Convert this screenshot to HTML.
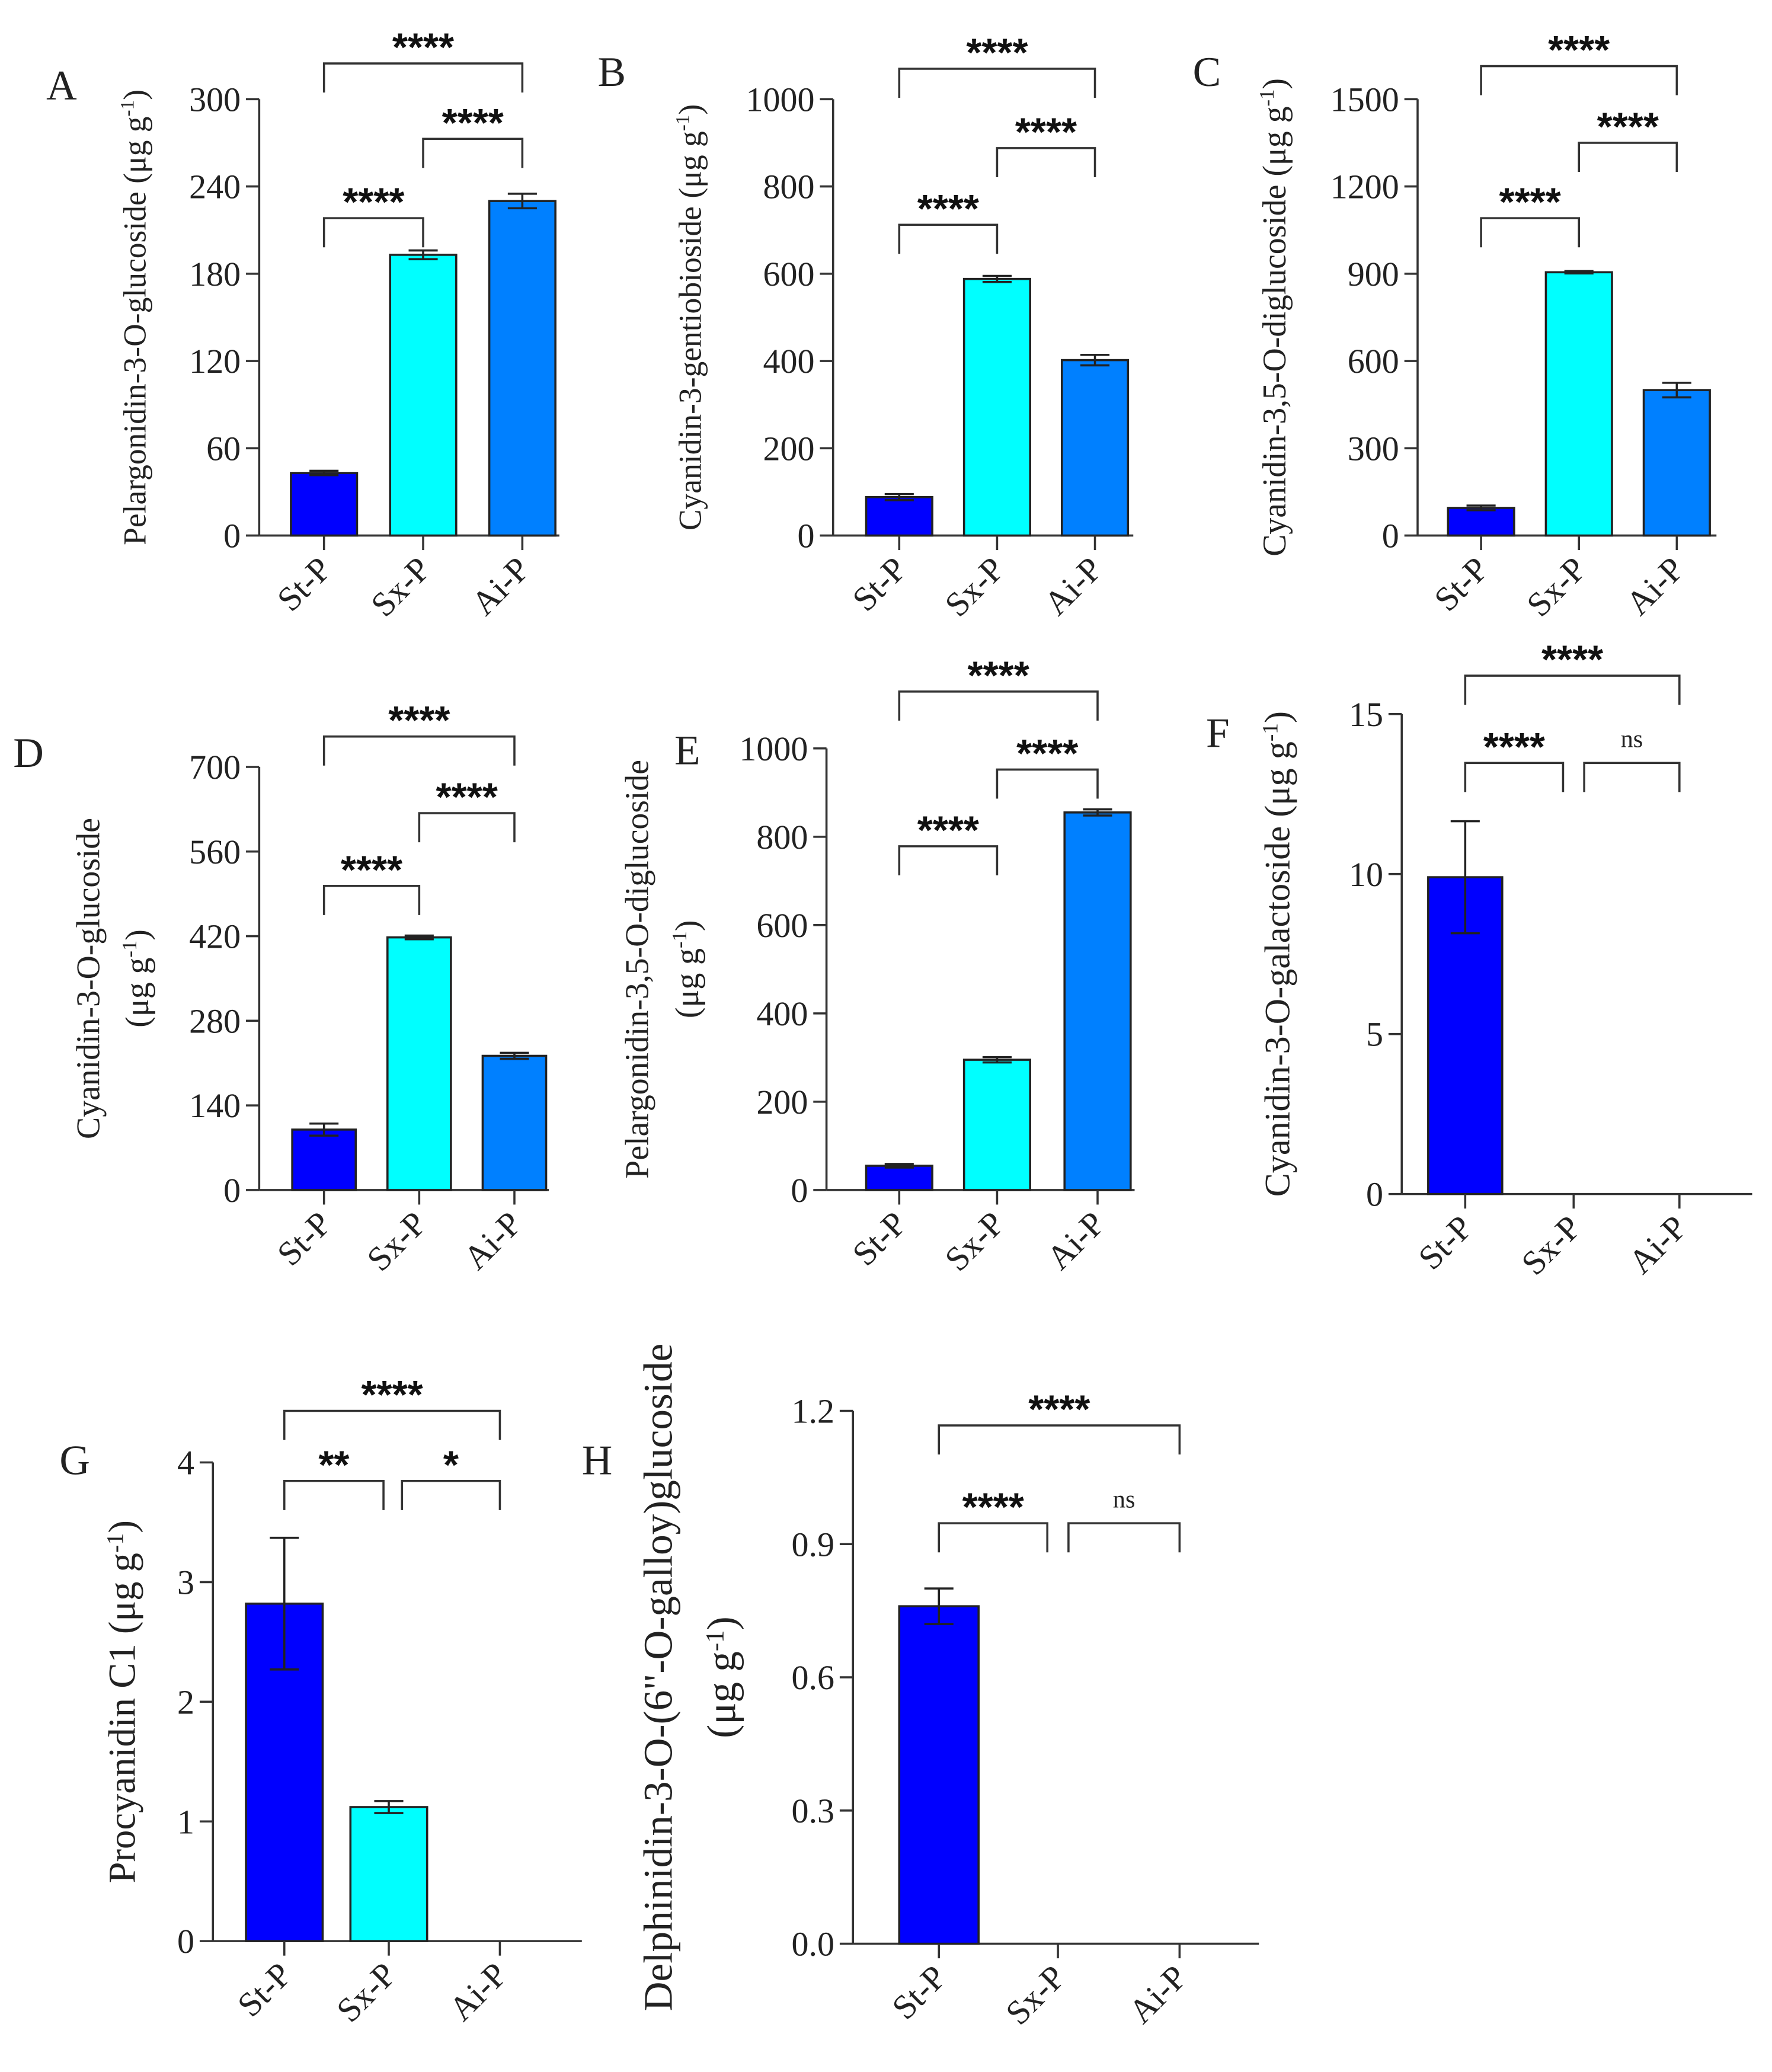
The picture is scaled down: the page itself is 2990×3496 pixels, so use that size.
<!DOCTYPE html>
<html><head><meta charset="utf-8"><style>
html,body{margin:0;padding:0;background:#fff}
svg{display:block}
text{font-family:"Liberation Serif",serif;fill:#222}
</style></head><body>
<svg id="fig" width="2990" height="3496" viewBox="0 0 1340 1567" preserveAspectRatio="none" xmlns="http://www.w3.org/2000/svg"></svg>
<script>
const categories = ['St-P','Sx-P','Ai-P'];
const colors = ['#0000ff','#00ffff','#0080ff'];
// Panel A
const valuesA = [43,193,230]; const errorsA = [1.5,3,5]; const ticksA = [0,60,120,180,240,300];
// Panel B
const valuesB = [88,588,402]; const errorsB = [7,7,12]; const ticksB = [0,200,400,600,800,1000];
// Panel C
const valuesC = [95,905,500]; const errorsC = [8,4,25]; const ticksC = [0,300,600,900,1200,1500];
// Panel D
const valuesD = [100,418,222]; const errorsD = [10,3,5]; const ticksD = [0,140,280,420,560,700];
// Panel E
const valuesE = [55,295,855]; const errorsE = [4,6,7]; const ticksE = [0,200,400,600,800,1000];
// Panel F
const valuesF = [9.9,0,0]; const errorsF = [1.75,0,0]; const ticksF = [0,5,10,15];
// Panel G
const valuesG = [2.82,1.12,0]; const errorsG = [0.55,0.05,0]; const ticksG = [0,1,2,3,4];
// Panel H
const valuesH = [0.76,0,0]; const errorsH = [0.04,0,0]; const ticksH = [0.0,0.3,0.6,0.9,1.2];
const tickLabelsH = ['0.0','0.3','0.6','0.9','1.2'];
// Significance labels
const sigA = ['****','****','****'], sigB = ['****','****','****'], sigC = ['****','****','****'];
const sigD = ['****','****','****'], sigE = ['****','****','****'], sigF = ['****','****','ns'];
const sigG = ['****','**','*'], sigH = ['****','****','ns'];

const NS='http://www.w3.org/2000/svg';
const svg=document.getElementById('fig');
function mk(tag,attrs,parent){const e=document.createElementNS(NS,tag);for(const k in attrs)e.setAttribute(k,attrs[k]);(parent||svg).appendChild(e);return e;}

const panels=[
 {id:'a',letter:'A',lx:35,ly:75,vals:valuesA,errs:errorsA,ticks:ticksA,sig:sigA,ax:196,xEnd:423,yTop:75,y0:405,c:[245,320,395],bw:50,
  title:['Pelargonidin-3-O-glucoside (μg g','-1',')'],tx:110,fs:24,title2:null,
  br:[{a:0,b:2,y:48},{a:1,b:2,y:105},{a:0,b:1,y:165}]},
 {id:'b',letter:'B',lx:452,ly:65,vals:valuesB,errs:errorsB,ticks:ticksB,sig:sigB,ax:630,xEnd:857,yTop:75,y0:405,c:[680,754,828],bw:50,
  title:['Cyanidin-3-gentiobioside (μg g','-1',')'],tx:530,fs:24,title2:null,
  br:[{a:0,b:2,y:52},{a:1,b:2,y:112},{a:0,b:1,y:170}]},
 {id:'c',letter:'C',lx:902,ly:65,vals:valuesC,errs:errorsC,ticks:ticksC,sig:sigC,ax:1072,xEnd:1298,yTop:75,y0:405,c:[1120,1194,1268],bw:50,
  title:['Cyanidin-3,5-O-diglucoside  (μg g','-1',')'],tx:972,fs:25,title2:null,
  br:[{a:0,b:2,y:50},{a:1,b:2,y:108},{a:0,b:1,y:165}]},
 {id:'d',letter:'D',lx:10,ly:580,vals:valuesD,errs:errorsD,ticks:ticksD,sig:sigD,ax:196,xEnd:415,yTop:580,y0:900,c:[245,317,389],bw:48,
  title:['Cyanidin-3-O-glucoside'],tx:75,fs:25,title2:['(μg g','-1',')'],tx2:112,
  br:[{a:0,b:2,y:557},{a:1,b:2,y:615},{a:0,b:1,y:670}]},
 {id:'e',letter:'E',lx:510,ly:578,vals:valuesE,errs:errorsE,ticks:ticksE,sig:sigE,ax:625,xEnd:858,yTop:566,y0:900,c:[680,754,830],bw:50,
  title:['Pelargonidin-3,5-O-diglucoside'],tx:490,fs:25,title2:['(μg g','-1',')'],tx2:528,
  br:[{a:0,b:2,y:523},{a:1,b:2,y:582},{a:0,b:1,y:640}]},
 {id:'f',letter:'F',lx:912,ly:565,vals:valuesF,errs:errorsF,ticks:ticksF,sig:sigF,ax:1060,xEnd:1325,yTop:540,y0:903,c:[1108,1190,1270],bw:56,
  title:['Cyanidin-3-O-galactoside (μg g','-1',')'],tx:975,fs:27,title2:null,
  br:[{a:0,b:2,y:511},{a:0,b:1,y:577,e:-8},{a:1,b:2,y:577,s:8}]},
 {id:'g',letter:'G',lx:45,ly:1115,vals:valuesG,errs:errorsG,ticks:ticksG,sig:sigG,ax:161,xEnd:440,yTop:1106,y0:1468,c:[215,294,378],bw:58,
  title:['Procyanidin C1 (μg g','-1',')'],tx:102,fs:29,title2:null,
  br:[{a:0,b:2,y:1067},{a:0,b:1,y:1120,e:-4},{a:1,b:2,y:1120,s:10}]},
 {id:'h',letter:'H',lx:440,ly:1115,vals:valuesH,errs:errorsH,ticks:ticksH,tickLabels:tickLabelsH,sig:sigH,ax:645,xEnd:952,yTop:1067,y0:1470,c:[710,800,892],bw:60,
  title:['Delphinidin-3-O-(6"-O-galloy)glucoside'],tx:508,fs:31,title2:['(μg g','-1',')'],tx2:556,
  br:[{a:0,b:2,y:1078},{a:0,b:1,y:1152,e:-8},{a:1,b:2,y:1152,s:8}]}
];

function addTitle(g,parts,x,yc,fs){
  const t=mk('text',{x:x,y:yc,'text-anchor':'middle','font-size':fs,transform:`rotate(-90 ${x} ${yc})`},g);
  
  
  const s1=mk('tspan',{},t);s1.textContent=parts[0];
  if(parts.length>1){const s2=mk('tspan',{dy:-9,'font-size':fs*0.62},t);s2.textContent=parts[1];
    const s3=mk('tspan',{dy:9},t);s3.textContent=parts[2];}
}

panels.forEach(p=>{
  const g=mk('g',{});
  
  
  const vmax=p.ticks[p.ticks.length-1];
  const y=v=>p.y0-(v/vmax)*(p.y0-p.yTop);
  const L=mk('text',{x:p.lx,y:p.ly,'font-size':32},g);L.textContent=p.letter;
  
  
  const ya=mk('line',{x1:p.ax,y1:p.yTop,x2:p.ax,y2:p.y0,stroke:'#333','stroke-width':1.6},g);
  
  
  const xa=mk('line',{x1:p.ax,y1:p.y0,x2:p.xEnd,y2:p.y0,stroke:'#333','stroke-width':1.6},g);
  
  
  p.ticks.forEach((t,i)=>{
    const yy=y(t);
    mk('line',{x1:p.ax-10,y1:yy,x2:p.ax,y2:yy,stroke:'#333','stroke-width':1.6},g);
    const tl=mk('text',{x:p.ax-14,y:yy+9,'text-anchor':'end','font-size':26},g);
    tl.textContent=p.tickLabels?p.tickLabels[i]:String(t);
    
    
  });
  categories.forEach((c,i)=>{
    const cx=p.c[i];
    if(p.vals[i]>0){
      const r=mk('rect',{x:cx-p.bw/2,y:y(p.vals[i]),width:p.bw,height:p.y0-y(p.vals[i]),fill:colors[i],stroke:'#222','stroke-width':1.6},g);
      
      
      const e=p.errs[i];
      const eg=mk('path',{d:`M${cx} ${y(p.vals[i]+e)}V${y(p.vals[i]-e)}M${cx-11} ${y(p.vals[i]+e)}H${cx+11}M${cx-11} ${y(p.vals[i]-e)}H${cx+11}`,stroke:'#222','stroke-width':1.6,fill:'none'},g);
      
      
    }
    mk('line',{x1:cx,y1:p.y0,x2:cx,y2:p.y0+11,stroke:'#333','stroke-width':1.6},g);
    const lx=cx+7,ly=p.y0+27;
    const xl=mk('text',{x:lx,y:ly,'text-anchor':'end','font-size':26,transform:`rotate(-45 ${lx} ${ly})`},g);
    xl.textContent=c;
    
    
  });
  p.br.forEach((b,k)=>{
    const x1=p.c[b.a]+(b.s||0), x2=p.c[b.b]+(b.e||0);
    const bp=mk('path',{d:`M${x1} ${b.y+22}V${b.y}H${x2}V${b.y+22}`,stroke:'#333','stroke-width':1.6,fill:'none'},g);
    
    
    const lab=p.sig[k];
    const isNs=lab==='ns';
    const st=mk('text',{x:(x1+x2)/2,y:isNs?b.y-12:b.y-2,'text-anchor':'middle','font-size':isNs?19:30,'font-weight':isNs?'normal':'bold'},g);
    if(!isNs)st.setAttribute('style','font-family:"Liberation Sans",sans-serif;fill:#111');
    st.textContent=lab;
    
    
  });
  const yc=(p.yTop+p.y0)/2;
  addTitle(g,p.title,p.tx,yc,p.fs);
  if(p.title2)addTitle(g,p.title2,p.tx2,yc,p.fs);
});
</script>
</body></html>
